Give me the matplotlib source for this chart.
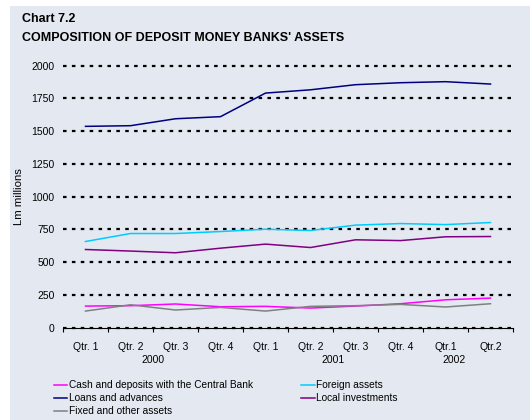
import matplotlib.pyplot as plt
from matplotlib.patches import Rectangle
import numpy as np

plt.rcParams['font.family'] = ['Liberation Sans', 'DejaVu Sans']

quarters = ["Qtr. 1", "Qtr. 2", "Qtr. 3", "Qtr. 4", "Qtr. 1", "Qtr. 2", "Qtr. 3", "Qtr. 4", "Qtr.1", "Qtr.2"]
years = ["2000", "2001", "2002"]
year_pos = [1.5, 5.5, 8.2]

cash = [165, 168, 181, 160, 163, 150, 165, 183, 213, 226]
loans = [1537, 1542, 1595, 1611, 1791, 1816, 1855, 1870, 1878, 1860]
fixed = [127, 175, 135, 155, 127, 163, 168, 178, 158, 183]
foreign = [658, 719, 719, 734, 752, 742, 783, 795, 787, 803]
local = [597, 585, 572, 607, 638, 612, 671, 665, 694, 696]

bg = "#E4E9F1"

fig = plt.figure(figsize=(5.3, 4.2), dpi=100)
fig.patches.append(Rectangle((10 / 530, 0), 1, 1 - 6 / 420, transform=fig.transFigure,
                             facecolor=bg, edgecolor="none", zorder=-10))

fig.text(22 / 530, 1 - 19 / 420, "Chart 7.2", fontsize=9, fontweight="bold", va="center")
fig.text(22 / 530, 1 - 38 / 420, "COMPOSITION OF DEPOSIT MONEY BANKS' ASSETS",
         fontsize=9, fontweight="bold", va="center")

ax = fig.add_axes([63 / 530, 1 - 327.7 / 420, 450 / 530, (327.7 - 65.7) / 420])
ax.set_facecolor("none")
x = np.arange(len(quarters))

# legend fills column by column, so plot order = column 1 then column 2
ax.plot(x, cash, color="#FF00FF", lw=1.1, label="Cash and deposits with the Central Bank")
ax.plot(x, loans, color="#000080", lw=1.1, label="Loans and advances")
ax.plot(x, fixed, color="#808080", lw=1.1, label="Fixed and other assets")
ax.plot(x, foreign, color="#00CCFF", lw=1.1, label="Foreign assets")
ax.plot(x, local, color="#800080", lw=1.1, label="Local investments")

ax.set_xlim(-0.5, len(quarters) - 0.5)
ax.set_ylim(0, 2000)
yt = np.arange(0, 2001, 250)
ax.set_yticks(yt)
ax.tick_params(axis="y", length=0, labelsize=7.5, pad=6)
for v in yt:
    ax.axhline(v, color="black", lw=1.6, ls=(0, (1.6, 2.4)), zorder=1, clip_on=False)

ax.set_xticks(np.arange(-0.5, len(quarters)), minor=False)
ax.set_xticklabels([])
ax.set_xticks(x, minor=True)
ax.set_xticklabels(quarters, minor=True)
ax.tick_params(axis="x", which="major", length=3, width=0.8, direction="out")
ax.tick_params(axis="x", which="minor", length=0, labelsize=7.5, pad=10)
for xp, yr in zip(year_pos, years):
    ax.text(xp, -0.123, yr, transform=ax.get_xaxis_transform(), ha="center", va="center",
            fontsize=7.5)

for s in ["top", "right", "left"]:
    ax.spines[s].set_visible(False)
ax.spines["bottom"].set_linewidth(0.8)

ax.set_ylabel("Lm millions", fontsize=8.2, labelpad=5)

ax.legend(loc="upper left", bbox_to_anchor=(-0.02, -0.2), ncol=2, frameon=False,
          fontsize=7.3, handlelength=1.3, handletextpad=0.15, labelspacing=0.3,
          columnspacing=4.8, borderaxespad=0, borderpad=0)

fig.savefig("out.png", dpi=100)
